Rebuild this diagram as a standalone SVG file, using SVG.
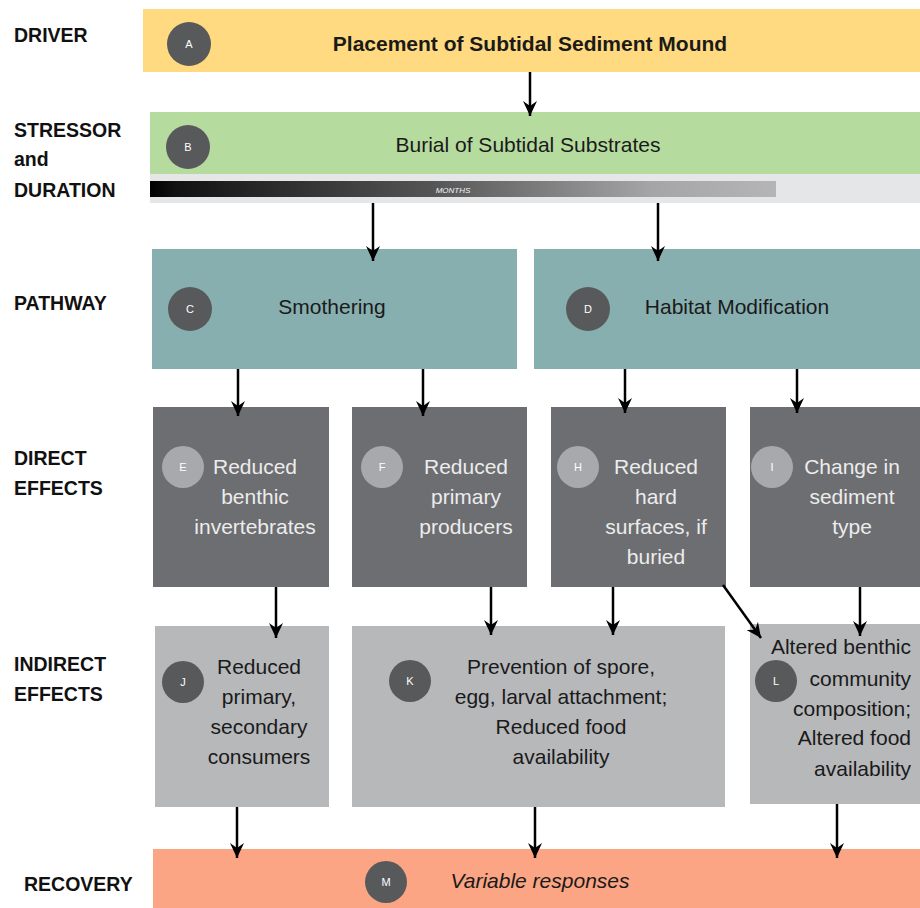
<svg xmlns="http://www.w3.org/2000/svg" width="920" height="908" viewBox="0 0 920 908">
<style>
.lbl{font-family:"Liberation Sans",Arial,sans-serif;font-weight:bold;font-size:19.5px;fill:#111}
.t{font-family:"Liberation Sans",Arial,sans-serif;font-size:21px;fill:#1a1a1a;text-anchor:middle}
.tw{font-family:"Liberation Sans",Arial,sans-serif;font-size:21px;fill:#ececec;text-anchor:middle}
.cd{fill:#58595b}
.cl{fill:#a7a9ac}
.ct{font-family:"Liberation Sans",Arial,sans-serif;font-size:11px;fill:#fff;text-anchor:middle}
.arr{stroke:#000;stroke-width:2.5;fill:none;marker-end:url(#ah)}
</style>
<defs>
<marker id="ah" markerUnits="userSpaceOnUse" markerWidth="16" markerHeight="14" viewBox="0 0 16 14" refX="15" refY="7" orient="auto">
<path d="M0,0 L15,7 L0,14 L5,7 Z" fill="#000"/>
</marker>
<linearGradient id="dur" x1="0" y1="0" x2="1" y2="0">
<stop offset="0" stop-color="#000"/>
<stop offset="0.04" stop-color="#111"/>
<stop offset="0.45" stop-color="#555"/>
<stop offset="0.8" stop-color="#a5a5a7"/>
<stop offset="1" stop-color="#b5b5b7"/>
</linearGradient>
</defs>

<!-- row labels -->
<g id="labels">
<text class="lbl" x="14" y="42">DRIVER</text>
<text class="lbl" x="14" y="137">STRESSOR</text>
<text class="lbl" x="14" y="166">and</text>
<text class="lbl" x="14" y="197">DURATION</text>
<text class="lbl" x="14" y="310">PATHWAY</text>
<text class="lbl" x="14" y="465">DIRECT</text>
<text class="lbl" x="14" y="495">EFFECTS</text>
<text class="lbl" x="14" y="671">INDIRECT</text>
<text class="lbl" x="14" y="701">EFFECTS</text>
<text class="lbl" x="24" y="891">RECOVERY</text>
</g>

<g id="nodeA">
<rect x="143" y="9" width="777" height="63" fill="#ffda80"/>
<circle class="cd" cx="189" cy="44" r="22"/>
<text class="ct" x="189" y="48">A</text>
<text class="t" x="530" y="51" style="font-weight:bold">Placement of Subtidal Sediment Mound</text>
</g>

<g id="nodeB">
<rect x="150" y="112" width="770" height="62" fill="#b6db9f"/>
<rect x="150" y="174" width="770" height="29" fill="#e5e6e8"/>
<rect x="150" y="181" width="626" height="16" fill="url(#dur)"/>
<text x="453" y="193" font-family="Liberation Sans,Arial,sans-serif" font-size="8" font-style="italic" fill="#f4f4f4" text-anchor="middle">MONTHS</text>
<circle class="cd" cx="188" cy="147" r="22"/>
<text class="ct" x="188" y="151">B</text>
<text class="t" x="528" y="152">Burial of Subtidal Substrates</text>
</g>

<g id="nodeC">
<rect x="152" y="249" width="365" height="120" fill="#87afb0"/>
<circle class="cd" cx="190" cy="309" r="22"/>
<text class="ct" x="190" y="313">C</text>
<text class="t" x="332" y="314">Smothering</text>
</g>

<g id="nodeD">
<rect x="534" y="249" width="386" height="120" fill="#87afb0"/>
<circle class="cd" cx="588" cy="309" r="22"/>
<text class="ct" x="588" y="313">D</text>
<text class="t" x="737" y="314">Habitat Modification</text>
</g>

<g id="nodeE">
<rect x="153" y="407" width="176" height="180" fill="#6d6e71"/>
<circle class="cl" cx="183" cy="467" r="21"/>
<text class="ct" x="183" y="471">E</text>
<text class="tw" x="255" y="474">Reduced</text>
<text class="tw" x="255" y="504">benthic</text>
<text class="tw" x="255" y="534">invertebrates</text>
</g>

<g id="nodeF">
<rect x="352" y="407" width="175" height="180" fill="#6d6e71"/>
<circle class="cl" cx="382" cy="467" r="21"/>
<text class="ct" x="382" y="471">F</text>
<text class="tw" x="466" y="474">Reduced</text>
<text class="tw" x="466" y="504">primary</text>
<text class="tw" x="466" y="534">producers</text>
</g>

<g id="nodeH">
<rect x="551" y="407" width="175" height="180" fill="#6d6e71"/>
<circle class="cl" cx="578" cy="467" r="21"/>
<text class="ct" x="578" y="471">H</text>
<text class="tw" x="656" y="474">Reduced</text>
<text class="tw" x="656" y="504">hard</text>
<text class="tw" x="656" y="534">surfaces, if</text>
<text class="tw" x="656" y="564">buried</text>
</g>

<g id="nodeI">
<rect x="750" y="407" width="170" height="180" fill="#6d6e71"/>
<circle class="cl" cx="772" cy="467" r="21"/>
<text class="ct" x="772" y="471">I</text>
<text class="tw" x="852" y="474">Change in</text>
<text class="tw" x="852" y="504">sediment</text>
<text class="tw" x="852" y="534">type</text>
</g>

<g id="nodeJ">
<rect x="155" y="626" width="174" height="181" fill="#b7b8ba"/>
<circle class="cd" cx="183" cy="682" r="21"/>
<text class="ct" x="183" y="686">J</text>
<text class="t" x="259" y="674">Reduced</text>
<text class="t" x="259" y="704">primary,</text>
<text class="t" x="259" y="734">secondary</text>
<text class="t" x="259" y="764">consumers</text>
</g>

<g id="nodeK">
<rect x="352" y="626" width="373" height="181" fill="#b7b8ba"/>
<circle class="cd" cx="410" cy="681" r="21"/>
<text class="ct" x="410" y="685">K</text>
<text class="t" x="561" y="674">Prevention of spore,</text>
<text class="t" x="561" y="704">egg, larval attachment;</text>
<text class="t" x="561" y="734">Reduced food</text>
<text class="t" x="561" y="764">availability</text>
</g>

<g id="nodeL">
<rect x="750" y="624" width="170" height="180" fill="#b7b8ba"/>
<circle class="cd" cx="776" cy="681" r="21"/>
<text class="ct" x="776" y="685">L</text>
<text class="t" x="911" y="654" style="text-anchor:end">Altered benthic</text>
<text class="t" x="911" y="686" style="text-anchor:end">community</text>
<text class="t" x="911" y="716" style="text-anchor:end">composition;</text>
<text class="t" x="911" y="745" style="text-anchor:end">Altered food</text>
<text class="t" x="911" y="776" style="text-anchor:end">availability</text>
</g>

<g id="nodeM">
<rect x="153" y="849" width="767" height="59" fill="#fca584"/>
<circle class="cd" cx="386" cy="882" r="21"/>
<text class="ct" x="386" y="886">M</text>
<text class="t" x="540" y="888" style="font-style:italic">Variable responses</text>
</g>

<g id="connectors">
<line class="arr" x1="530" y1="72" x2="530" y2="116"/>
<line class="arr" x1="373" y1="203" x2="373" y2="261"/>
<line class="arr" x1="658" y1="203" x2="658" y2="261"/>
<line class="arr" x1="238" y1="369" x2="238" y2="416"/>
<line class="arr" x1="423" y1="369" x2="423" y2="416"/>
<line class="arr" x1="625" y1="369" x2="625" y2="413"/>
<line class="arr" x1="797" y1="369" x2="797" y2="413"/>
<line class="arr" x1="276" y1="587" x2="276" y2="638"/>
<line class="arr" x1="491" y1="587" x2="491" y2="635"/>
<line class="arr" x1="613" y1="587" x2="613" y2="635"/>
<line class="arr" x1="723" y1="585" x2="761" y2="638"/>
<line class="arr" x1="860" y1="587" x2="860" y2="636"/>
<line class="arr" x1="237" y1="807" x2="237" y2="858"/>
<line class="arr" x1="535" y1="807" x2="535" y2="858"/>
<line class="arr" x1="837" y1="804" x2="837" y2="858"/>
</g>
</svg>
